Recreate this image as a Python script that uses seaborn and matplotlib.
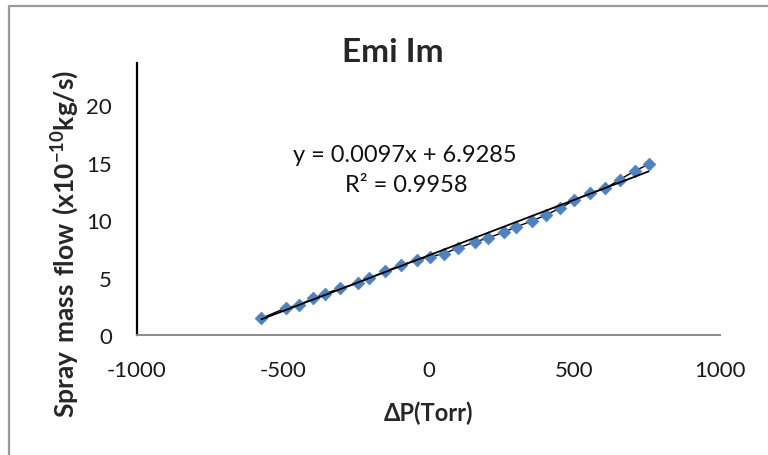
import matplotlib
matplotlib.use("Agg")
import matplotlib.pyplot as plt
from matplotlib.lines import Line2D
import numpy as np
import pandas as pd
import seaborn as sns

# Measured pressure difference (Torr) and spray mass flow (x1e-10 kg/s)
delta_p = [-573, -490, -444, -396, -356, -304, -243, -203, -149, -95, -41, 5,
           53, 100, 160, 205, 260, 301, 355, 404, 452, 500, 553, 607, 656,
           707, 755]
mass_flow = [1.45, 2.35, 2.63, 3.19, 3.59, 4.06, 4.50, 4.96, 5.54, 6.09, 6.52,
             6.81, 7.10, 7.57, 8.11, 8.46, 8.98, 9.42, 9.94, 10.46, 11.07,
             11.74, 12.35, 12.78, 13.54, 14.29, 14.87]

# Linear trendline coefficients
slope = 0.0097
intercept = 6.9285
r_squared = 0.9958

x_ticks = [-1000, -500, 0, 500, 1000]
y_ticks = [0, 5, 10, 15, 20]

sns.set_theme(style="white")
plt.rcParams["font.family"] = ["Lato", "DejaVu Sans"]
plt.rcParams["mathtext.fontset"] = "custom"
plt.rcParams["mathtext.rm"] = "Lato"
plt.rcParams["mathtext.bf"] = "Lato:bold"
plt.rcParams["axes.unicode_minus"] = False

df = pd.DataFrame({"dp": delta_p, "flow": mass_flow})

fig = plt.figure(figsize=(7.68, 4.56), dpi=100)
ax = fig.add_axes([137 / 768, 1 - 336 / 456, (720 - 137) / 768, (336 - 64) / 456])

# Chart area border (left and top edges)
bx, by = 9 / 768, 1 - 7 / 456
for xd, yd in (([bx, bx], [0, by]), ([bx, 1], [by, by])):
    fig.add_artist(Line2D(xd, yd, transform=fig.transFigure,
                          color="#9a9a9a", linewidth=1.6))

sns.lineplot(data=df, x="dp", y="flow", ax=ax, color="black", linewidth=1.0,
             sort=False, zorder=2)
sns.scatterplot(data=df, x="dp", y="flow", ax=ax, marker="D", s=42,
                color="#4F81BD", edgecolor="#4F81BD", linewidth=0.5, zorder=3)

xs = np.array([min(delta_p), max(delta_p)])
ax.plot(xs, slope * xs + intercept, color="black", linewidth=1.3, zorder=4)

ax.set_xlim(-1000, 1000)
ax.set_ylim(0, 23.7)
ax.set_xticks(x_ticks)
ax.set_yticks(y_ticks)
ax.tick_params(axis="both", length=0, labelsize=16, colors="#1a1a1a")
ax.tick_params(axis="x", pad=18)
ax.tick_params(axis="y", pad=18)

for side in ("top", "right"):
    ax.spines[side].set_visible(False)
ax.spines["left"].set_color("black")
ax.spines["left"].set_linewidth(1.6)
ax.spines["bottom"].set_color("#8c8c8c")
ax.spines["bottom"].set_linewidth(1.4)

ax.set_xlabel("ΔP(Torr)", fontsize=17, fontweight="bold", labelpad=15)
ax.set_ylabel(r"$\mathbf{Spray\ mass\ flow\ (x10^{-10}kg/s)}$", fontsize=19,
              va="center", ha="center")
ax.yaxis.set_label_coords((65 - 137) / 583, (336 - 244) / 272)

fig.text(393 / 768, 1 - 53 / 456, "Emi Im", fontsize=24, fontweight="bold",
         ha="center", va="center")
fig.text(405 / 768, 1 - 155 / 456, f"y = {slope}x + {intercept}", fontsize=17,
         ha="center", va="center", color="#111111")
fig.text(406 / 768, 1 - 186 / 456, f"R² = {r_squared}", fontsize=17,
         ha="center", va="center", color="#111111")

fig.savefig("out.png", dpi=100, facecolor="white")
